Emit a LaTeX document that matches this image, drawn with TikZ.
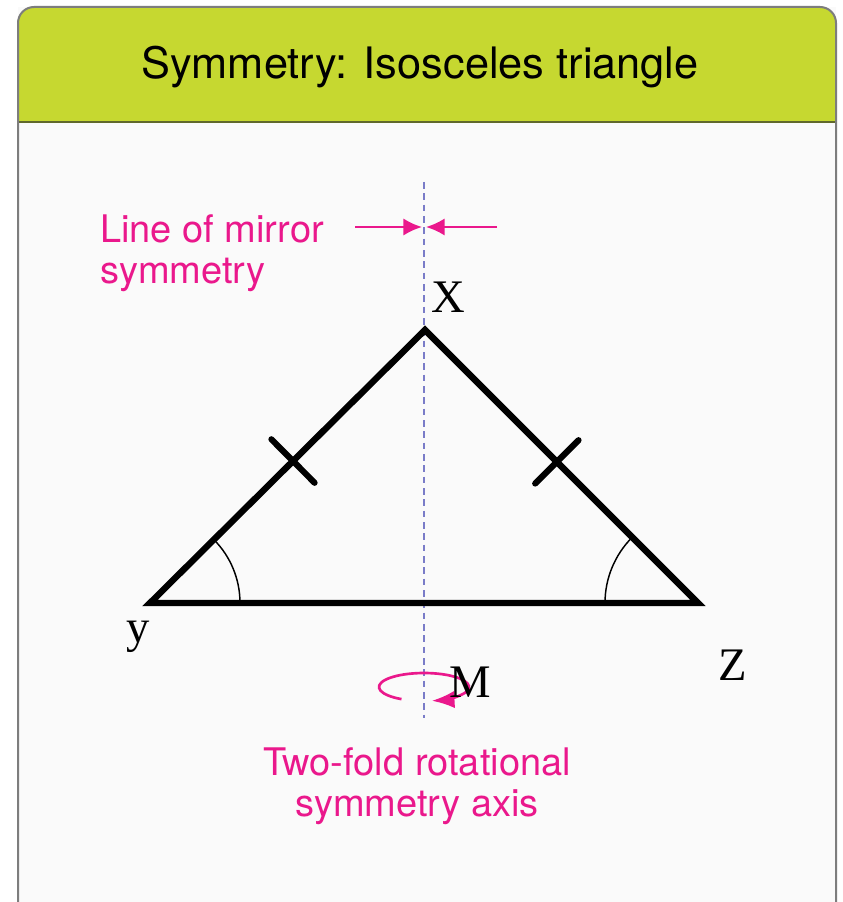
\documentclass[tikz,border=0pt]{standalone}
\usepackage{fontspec}
\setmainfont{Liberation Serif}
\newfontfamily\helv{TeX Gyre Heros}
\usetikzlibrary{arrows.meta,calc}
\definecolor{barGreen}{RGB}{198,216,48}
\definecolor{barLine}{RGB}{96,104,44}
\definecolor{symPink}{RGB}{234,24,140}
\definecolor{axisBlue}{RGB}{122,124,200}
\definecolor{frameGray}{RGB}{125,125,125}
\definecolor{paper}{RGB}{250,250,250}

\begin{document}
\begin{tikzpicture}[x=0.75pt,y=-0.75pt,
  side/.style={line width=4.8pt,line join=miter,line cap=round},
  tickmark/.style={line width=4.6pt,line cap=round},
  anglearc/.style={line width=1.1pt},
  vertexlbl/.style={inner sep=0pt,font=\fontsize{35}{35}\selectfont},
  pinktext/.style={inner sep=0pt,text=symPink,font=\helv\fontsize{28.5}{31}\selectfont},
  pinkarrow/.style={symPink,line width=1.8pt,-{Latex[length=14pt,width=13pt]}}]
\useasboundingbox (0,0) rectangle (842,902);
\fill[white] (0,0) rectangle (842,902);
\fill[paper] (18,7) rectangle (836,902);

% title bar
\fill[barGreen] (18,122) [rounded corners=12pt] -- (18,7) -- (836,7) [sharp corners] -- (836,122) -- cycle;
\draw[barLine,line width=1.8pt] (18,122) -- (836,122);
\draw[frameGray,line width=1.5pt] (18,902) [rounded corners=12pt] -- (18,7) -- (836,7) [sharp corners] -- (836,902);
\node[inner sep=0pt,font=\helv\fontsize{32.5}{33}\selectfont] (title) at (420,67) {Symmetry: Isosceles triangle};

% the triangle
\coordinate (X) at (425,330);
\coordinate (Y) at (150,603);
\coordinate (Z) at (698,603);

% mirror axis
\coordinate (axTop) at (424,182);
\coordinate (axBot) at (424,718);
\draw[axisBlue,line width=1.4pt,dash pattern=on 5pt off 3.5pt] (axTop) -- (axBot);

\draw[side] (X) -- (Y) -- (Z) -- cycle;

% equal sides
\coordinate (tXY) at ($(Y)!0.52!(X)$);
\coordinate (tXZ) at ($(Z)!0.517!(X)$);
\draw[tickmark] ($(tXY)!23pt!90:(X)$) -- ($(tXY)!23pt!-90:(X)$);
\draw[tickmark] ($(tXZ)!23pt!90:(X)$) -- ($(tXZ)!23pt!-90:(X)$);

% equal angles
\draw[anglearc] ($(Y)+(90,0)$) arc[start angle=0,end angle=-44.8,radius=90];
\draw[anglearc] ($(Z)+(-93,0)$) arc[start angle=180,end angle=224.8,radius=93];

% vertex labels
\node[vertexlbl] (labX) at (448,297) {X};
\node[vertexlbl] (labY) at (138,637) {y};
\node[vertexlbl] (labZ) at (733,665) {Z};

% mirror symmetry
\coordinate (mirL) at (355,227);
\coordinate (mirR) at (497,227);
\coordinate (mirA) at (422,227);
\coordinate (mirB) at (426,227);
\draw[pinkarrow] (mirL) -- (mirA);
\draw[pinkarrow] (mirR) -- (mirB);
\node[pinktext,align=left,anchor=north west] (mirrorLbl) at (100,214) {Line of mirror\\symmetry};

% two-fold rotation
\coordinate (rotC) at (424,687);
\draw[symPink,line width=2pt,-{Latex[length=17pt,width=13pt]}]
  ($(rotC)+(120:45 and 14)$) arc[start angle=120,end angle=440,x radius=45,y radius=14];
\node[vertexlbl] (labM) at (470,682) {M};
\node[pinktext,align=center,anchor=north] (rotLbl) at (417,747) {Two-fold rotational\\symmetry axis};
\end{tikzpicture}
\end{document}
